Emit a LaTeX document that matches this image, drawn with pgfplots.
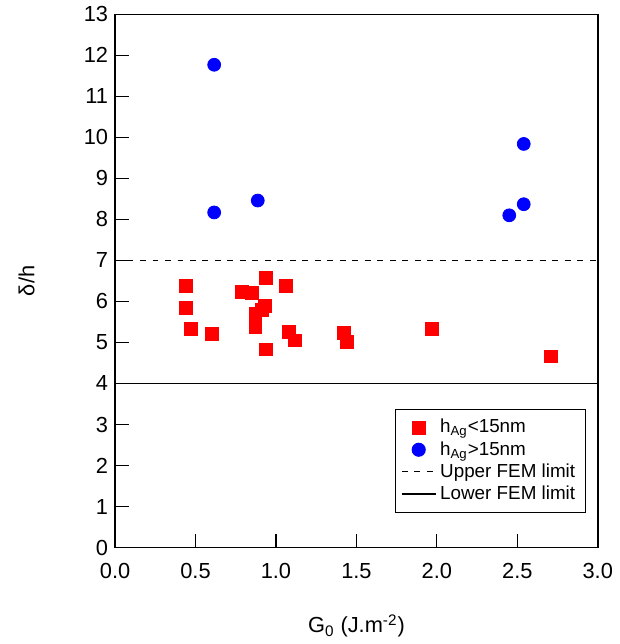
\documentclass[border=0pt]{standalone}
\usepackage{pgfplots}
\pgfplotsset{compat=1.18}
\usepackage{fontspec}
\setmainfont{Liberation Sans}
\begin{document}
\begin{tikzpicture}
\begin{axis}[
  name=ax,
  width=243.5pt, height=269pt, scale only axis,
  xmin=0, xmax=3, ymin=0, ymax=13,
  xtick={0,0.5,...,3}, ytick={0,1,...,13},
  xticklabel style={/pgf/number format/fixed, /pgf/number format/fixed zerofill, /pgf/number format/precision=1, yshift=-4.5pt},
  /pgf/number format/assume math mode=true,
  tick align=inside, tick pos=left,
  major tick length=7pt,
  tick style={black, line width=0.6pt},
  axis line style={line width=0.8pt},
  every tick label/.append style={font=\fontsize{11}{13}\selectfont},
  xlabel={G\textsubscript{0} (J.m\textsuperscript{-2})},
  ylabel={δ/h},
  label style={font=\fontsize{11}{13}\selectfont},
  xlabel style={yshift=-11pt},
  ylabel style={yshift=18pt},
  legend style={at={(0.975,0.065)}, anchor=south east, draw=black, line width=0.6pt,
    font=\fontsize{9.5}{11}\selectfont, row sep=-1.2pt, inner sep=3pt},
  legend cell align=left,
]
\addplot[only marks, mark=square*, mark size=3.25pt, color=red, mark options={draw=red, fill=red}] coordinates {
(0.439,6.38) (0.439,5.84) (0.47,5.34) (0.60,5.21) (0.94,6.57) (0.79,6.23) (0.85,6.21)
(1.06,6.38) (0.933,5.89) (0.915,5.80) (0.872,5.69) (0.872,5.50) (0.872,5.37)
(0.94,4.83) (1.08,5.26) (1.12,5.05) (1.42,5.24) (1.44,5.02) (1.97,5.34) (2.71,4.66)
};
\addlegendentry{h\textsubscript{Ag}<15nm}
\addplot[only marks, mark=*, mark size=3.25pt, color=blue, mark options={draw=blue, fill=blue}] coordinates {
(0.616,11.77) (0.616,8.17) (0.887,8.46) (2.54,9.84) (2.54,8.37) (2.45,8.10)
};
\addlegendentry{h\textsubscript{Ag}>15nm}
\addplot[black, line width=0.5pt, dash pattern=on 3pt off 3.3pt] coordinates {(0,7) (3,7)};
\addlegendentry{Upper FEM limit}
\addplot[black, line width=0.6pt] coordinates {(0,4) (3,4)};
\addlegendentry{Lower FEM limit}
\end{axis}
\path (ax.outer south west) ++(-6pt,0) coordinate (bbl);
\path (bbl) -- (ax.outer north east);
\end{tikzpicture}
\end{document}
